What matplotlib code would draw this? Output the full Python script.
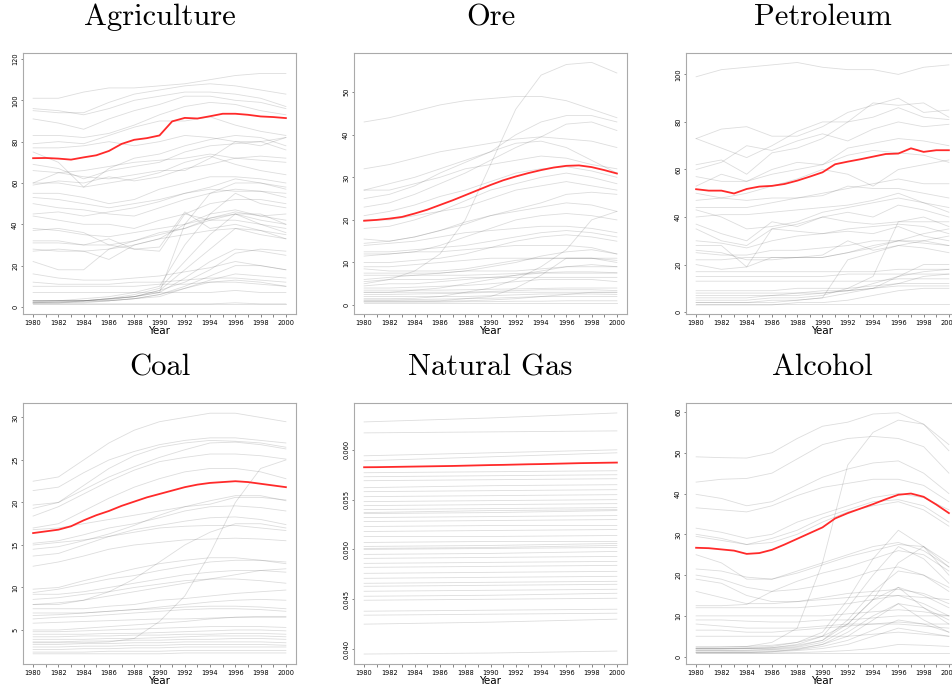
import numpy as np
import matplotlib
matplotlib.use("Agg")
import matplotlib.pyplot as plt
from matplotlib.ticker import MultipleLocator, FixedLocator

years = np.arange(1980, 2001)
years2 = years[::2]

# highlighted series (annual)
agri_red = [72.0, 72.1, 71.8, 71.3, 72.4, 73.4, 75.5, 78.9, 80.9, 81.7, 83.0,
            89.8, 91.5, 91.2, 92.3, 93.5, 93.5, 93.0, 92.2, 91.9, 91.4]
ore_red = [19.8, 20.0, 20.3, 20.7, 21.5, 22.4, 23.5, 24.6, 25.8, 27.0, 28.2,
           29.3, 30.2, 31.0, 31.7, 32.3, 32.7, 32.8, 32.4, 31.7, 30.9]
petro_red = [51.7, 51.1, 51.1, 49.9, 51.8, 52.8, 53.1, 53.9, 55.3, 57.0, 58.8,
             62.2, 63.3, 64.3, 65.4, 66.5, 66.7, 68.9, 67.4, 68.1, 68.1]
coal_red = [16.4, 16.6, 16.8, 17.2, 17.9, 18.5, 19.0, 19.6, 20.1, 20.6, 21.0,
            21.4, 21.8, 22.1, 22.3, 22.4, 22.5, 22.4, 22.2, 22.0, 21.8]
gas_red = [0.05825, 0.05826, 0.05828, 0.05830, 0.05832, 0.05834, 0.05836, 0.05838,
           0.05841, 0.05844, 0.05847, 0.05849, 0.05852, 0.05855, 0.05857, 0.05860,
           0.05863, 0.05866, 0.05868, 0.05870, 0.05872]
alco_red = [26.7, 26.6, 26.3, 26.0, 25.2, 25.4, 26.2, 27.5, 28.9, 30.3, 31.7,
            33.9, 35.2, 36.3, 37.4, 38.6, 39.7, 40.0, 39.2, 37.3, 35.2]

# background series, sampled every two years 1980..2000
agri_gray = [
    [101, 101, 104, 106, 106, 107, 108, 110, 112, 113, 113],
    [95, 94, 94, 99, 103, 105, 107, 108, 107, 105, 103],
    [96, 95, 93, 96, 100, 102, 104, 104, 103, 101, 97],
    [91, 89, 86, 91, 95, 98, 102, 102, 100, 99, 96],
    [83, 83, 82, 84, 88, 93, 97, 99, 98, 95, 93],
    [79, 80, 79, 83, 87, 90, 90, 92, 88, 85, 83],
    [77, 77, 78, 80, 78, 80, 83, 82, 80, 78, 82],
    [75, 70, 58, 67, 72, 74, 78, 81, 83, 82, 78],
    [69, 67, 62, 66, 68, 70, 75, 78, 79, 80, 76],
    [66, 65, 66, 68, 70, 71, 72, 74, 72, 73, 72],
    [60, 60, 58, 60, 62, 65, 70, 73, 69, 66, 64],
    [59, 61, 60, 63, 61, 63, 67, 69, 72, 71, 70],
    [55, 55, 53, 50, 52, 57, 60, 63, 63, 62, 60],
    [53, 52, 50, 48, 50, 52, 55, 57, 56, 56, 55],
    [50, 48, 47, 45, 44, 48, 52, 55, 57, 56, 53],
    [44, 42, 40, 40, 38, 42, 45, 50, 52, 52, 50],
    [38, 37, 35, 34, 36, 38, 40, 45, 47, 44, 42],
    [37, 38, 36, 30, 28, 27, 45, 42, 45, 40, 38],
    [32, 32, 30, 30, 32, 35, 38, 42, 42, 40, 36],
    [31, 31, 30, 33, 28, 29, 46, 38, 40, 37, 33],
    [28, 27, 27, 23, 30, 33, 35, 37, 38, 37, 35],
    [22, 18, 18, 28, 32, 36, 38, 43, 46, 44, 45],
    [16, 14, 13, 13, 14, 15, 17, 19, 22, 20, 18],
    [12, 11, 11, 11, 12, 12, 13, 14, 14, 13, 12],
    [10, 10, 10, 10, 10, 11, 11, 12, 12, 11, 10],
    [7, 7, 7, 7, 7, 7, 7, 7, 8, 7, 7],
    [3, 3, 4, 5, 7, 10, 30, 45, 55, 50, 48],
    [3, 3, 3, 4, 6, 9, 22, 35, 45, 45, 40],
    [2.5, 3, 3, 4, 5, 8, 18, 28, 38, 35, 33],
    [2, 2.5, 3, 3.5, 5, 7, 14, 22, 28, 27, 25],
    [3, 3, 3, 4, 5, 8, 12, 18, 26, 28, 27],
    [2, 2, 2.5, 3, 4, 6, 10, 15, 20, 20, 18],
    [2, 2, 3, 3, 4, 6, 9, 13, 16, 15, 14],
    [1.5, 1.5, 1.5, 1.5, 1.5, 1.5, 1.5, 1.5, 2, 1.5, 1.5],
    [1.2, 1.2, 1.2, 1.2, 1.2, 1.2, 1.2, 1.2, 1.2, 1.2, 1.2],
    [3, 3, 3, 4, 5, 7, 40, 43, 45, 42, 40],
    [2, 2, 2, 3, 4, 5, 9, 12, 13, 12, 10],
    [60, 65, 63, 62, 64, 66, 66, 72, 80, 80, 82],
    [27, 28, 27, 28, 30, 33, 40, 55, 60, 60, 58],
    [45, 46, 44, 46, 48, 51, 55, 58, 62, 60, 57],
]

ore_gray = [
    [43, 44, 45.5, 47, 48, 48.5, 49, 49, 48, 46, 44],
    [32, 33, 34.5, 36, 37, 38, 39, 39.5, 39, 38.5, 37],
    [27, 27, 28.5, 30, 32, 33, 34, 35, 34.5, 33, 32],
    [27, 28.5, 30, 32, 34, 36, 38, 38.5, 37, 34, 31],
    [25, 26, 28, 31, 33.5, 36, 40, 43, 44.5, 44.5, 43],
    [23, 24, 26, 28.5, 31, 34, 37, 39.5, 42.5, 43, 41],
    [21, 22, 23.5, 25.5, 27, 29, 31, 32, 32.5, 31.5, 30],
    [18, 18.5, 20, 22, 24.5, 27, 28.5, 30, 31, 30, 28.5],
    [15.5, 15, 16, 17.5, 19.5, 21, 22.5, 24, 26, 26.5, 26],
    [14.5, 15, 16, 17.5, 19, 21, 22, 23, 24, 23.5, 22],
    [14, 14.5, 15, 16, 17, 17.5, 18, 18.5, 18.5, 18, 17],
    [12.5, 12.5, 13, 13.5, 14, 15, 16, 17, 17.5, 17, 16],
    [11.5, 12, 12.5, 12.5, 13, 13.5, 14, 14, 14, 13.5, 12],
    [9, 9, 9.5, 10, 10.5, 11, 11, 11, 11, 11, 11],
    [8.5, 8, 8, 8, 8.5, 9.5, 10.5, 11, 11, 11, 10.5],
    [7.5, 7.5, 7.5, 7.5, 8, 8, 8, 8.5, 9, 9, 9],
    [7, 7, 7, 7, 7, 7.2, 7.4, 7.6, 7.8, 7.8, 7.6],
    [6, 6.5, 7, 7.5, 8, 9, 10, 11.5, 12.5, 13, 12],
    [5.5, 6, 6, 6, 6.5, 6.5, 6.5, 6.5, 6.5, 6.5, 6.5],
    [5, 6, 8, 12, 20, 33, 46, 54, 56.5, 57, 54.5],
    [4.5, 5, 5, 5.5, 6, 6.5, 7, 7.5, 7.5, 7.5, 7.5],
    [4, 4, 4.2, 4.4, 4.6, 5, 5.5, 6, 6, 6, 5.5],
    [3.5, 3.5, 3.5, 3.5, 3.6, 3.7, 3.8, 3.9, 4, 4, 4],
    [3, 3, 3, 3, 3, 3.2, 3.4, 3.6, 3.6, 3.6, 3.4],
    [2.5, 2.5, 2.6, 2.7, 2.8, 3, 3, 3, 3, 3, 3],
    [2, 2, 2, 2, 2, 2.2, 2.4, 2.6, 2.6, 2.6, 2.5],
    [1.5, 1.5, 1.6, 2, 3, 4, 6, 9, 13, 20, 22],
    [1, 1, 1, 1, 1.5, 2, 4, 7, 11, 11, 10],
    [0.8, 0.8, 0.8, 0.9, 1, 1.2, 1.5, 2, 2.5, 3, 3],
    [0.5, 0.5, 0.5, 0.5, 0.5, 0.5, 0.5, 0.5, 0.5, 0.5, 0.5],
    [0.7, 0.7, 0.7, 0.7, 0.8, 0.8, 0.9, 0.9, 1, 1, 1],
    [1.2, 1.2, 1.3, 1.4, 1.5, 1.6, 1.8, 2, 2, 2, 2],
    [3, 3, 3.5, 4, 5, 6, 7, 8, 9, 9.5, 9],
    [20, 20, 21, 22, 23, 25, 27, 28, 29, 28, 27],
    [10, 10, 10.5, 11, 12, 13.5, 15, 16, 16.5, 16, 15],
    [12, 12, 12.5, 14, 16, 18, 20, 21, 21.5, 21, 20],
]

petro_gray = [
    [99, 102, 103, 104, 105, 103, 102, 102, 100, 103, 104],
    [73, 77, 78, 74, 74, 78, 84, 87, 90, 84, 85],
    [73, 69, 65, 70, 76, 80, 80, 88, 87, 88, 82],
    [62, 64, 58, 67, 69, 73, 80, 82, 86, 82, 81],
    [60, 63, 70, 68, 72, 75, 72, 77, 80, 78, 79],
    [57, 55, 55, 60, 63, 62, 69, 71, 73, 72, 70],
    [53, 58, 55, 58, 60, 62, 66, 68, 67, 66, 63],
    [50, 48, 50, 53, 56, 60, 58, 53, 60, 62, 64],
    [47, 48, 47, 48, 48, 50, 52, 54, 56, 54, 54],
    [44, 44, 44, 46, 48, 49, 53, 52, 52, 50, 48],
    [43, 40, 35, 36, 38, 42, 44, 46, 48, 46, 44],
    [40, 41, 41, 42, 43, 44, 45, 47, 50, 46, 42],
    [37, 33, 30, 38, 36, 40, 38, 37, 38, 40, 36],
    [35, 30, 28, 35, 37, 40, 42, 40, 45, 43, 40],
    [30, 29, 27, 30, 32, 33, 34, 33, 36, 32, 30],
    [28, 28, 19, 35, 34, 33, 35, 36, 37, 36, 33],
    [25, 24, 24, 26, 26, 27, 28, 30, 30, 29, 28],
    [22, 22, 23, 23, 23, 23, 25, 27, 30, 30, 28],
    [20, 18, 19, 23, 23, 24, 30, 26, 28, 27, 25],
    [17, 17, 17, 17, 17, 17, 17, 17, 18, 18, 18],
    [15, 15, 15, 15, 15, 15, 16, 16, 16, 16, 16],
    [13, 13, 13, 13, 13, 13, 13, 13, 14, 14, 14],
    [9, 9, 9, 9, 10, 10, 10, 11, 12, 12, 12],
    [8, 8, 8, 8, 8, 9, 9, 10, 11, 11, 11],
    [6, 6, 6, 7, 7, 8, 9, 12, 15, 20, 20],
    [5, 5, 5, 6, 6, 7, 10, 15, 38, 38, 38],
    [4, 4, 4, 4, 5, 6, 8, 10, 15, 17, 18],
    [3.5, 3.5, 3.5, 3.5, 3.5, 3.5, 3.5, 3.5, 3.5, 3.5, 3.5],
    [4, 4, 4, 5, 5, 6, 22, 25, 28, 30, 32],
    [7, 7, 7, 7, 8, 8, 9, 10, 12, 15, 16],
    [3, 3, 3, 3, 4, 4, 5, 7, 9, 10, 10],
    [26, 25, 22, 22, 23, 23, 25, 28, 30, 33, 35],
]

coal_gray = [
    [22.5, 23, 25, 27, 28.5, 29.5, 30, 30.5, 30.5, 30, 29.5],
    [21.4, 21.8, 23.5, 25, 26, 26.8, 27.3, 27.6, 27.6, 27.3, 27],
    [19.7, 20, 22, 24, 25.5, 26.5, 27, 27.3, 27.2, 27, 26.5],
    [19.3, 20, 21.5, 23, 24.2, 25.3, 26.2, 27, 27.1, 26.8, 26.3],
    [18.4, 19.5, 21, 22.5, 23.8, 24.8, 25.3, 25.7, 25.7, 25.5, 25.1],
    [17, 17.5, 19, 20.5, 21.8, 22.8, 23.6, 24, 24, 23.6, 22.8],
    [16.8, 17, 17.5, 18, 18.5, 19, 19.5, 19.8, 20.6, 20.6, 20.3],
    [15.2, 15.5, 16.2, 17, 17.5, 18.2, 19, 19.5, 19.6, 19.4, 19],
    [15, 15.3, 15.6, 16, 16.5, 17, 17.2, 17.3, 17.3, 17, 16.7],
    [14.5, 14.8, 15.5, 16.3, 17.3, 18.5, 19.5, 20.2, 20.8, 20.8, 20.2],
    [13.7, 14, 15, 16, 16.8, 17.3, 17.8, 18.2, 18.3, 18, 17.4],
    [12.5, 13, 13.7, 14.5, 15, 15.3, 15.6, 15.7, 15.8, 15.7, 15.5],
    [9.8, 10, 10.8, 11.5, 12.2, 12.8, 13.2, 13.5, 13.5, 13.2, 12.8],
    [9.4, 9.8, 10.4, 11, 11.4, 12, 12.5, 13, 13.2, 13.2, 13],
    [9.2, 9.2, 9.5, 10, 10.5, 11, 11.5, 11.8, 12, 12, 11.8],
    [8.6, 8.8, 9.2, 9.5, 10, 10.4, 10.8, 11, 11, 10.8, 10.5],
    [8, 8.2, 8.5, 9, 9.5, 10, 10.5, 11, 11.5, 12, 12.2],
    [7.5, 7.5, 7.5, 7.8, 8, 8.5, 8.7, 9, 9.3, 9.5, 9.7],
    [7, 7, 7, 7.2, 7.4, 7.7, 8, 8.3, 8.5, 8.6, 8.5],
    [6.7, 6.8, 7, 7.2, 7.4, 7.5, 7.7, 7.8, 7.8, 7.7, 7.5],
    [6.3, 6.5, 6.6, 6.8, 7, 7.2, 7.4, 7.5, 7.5, 7.4, 7.2],
    [5.8, 5.9, 6, 6.1, 6.2, 6.3, 6.3, 6.4, 6.5, 6.5, 6.5],
    [5, 5, 5.2, 5.4, 5.6, 5.8, 6, 6.3, 6.5, 6.6, 6.6],
    [4.8, 4.8, 4.9, 5, 5.1, 5.2, 5.3, 5.4, 5.4, 5.4, 5.3],
    [4.5, 4.5, 4.5, 4.6, 4.6, 4.7, 4.8, 4.9, 5, 5, 4.9],
    [4.2, 4.2, 4.3, 4.3, 4.4, 4.4, 4.5, 4.5, 4.6, 4.6, 4.5],
    [3.9, 3.9, 3.9, 4, 4, 4.1, 4.2, 4.3, 4.3, 4.3, 4.2],
    [3.6, 3.6, 3.7, 3.7, 3.8, 3.8, 3.9, 3.9, 4, 4, 3.9],
    [3.3, 3.3, 3.4, 3.4, 3.5, 3.5, 3.6, 3.6, 3.6, 3.6, 3.5],
    [3, 3, 3.1, 3.1, 3.2, 3.2, 3.3, 3.3, 3.3, 3.3, 3.2],
    [2.7, 2.7, 2.8, 2.8, 2.9, 2.9, 3, 3, 3, 3, 3],
    [2.4, 2.4, 2.4, 2.5, 2.5, 2.5, 2.6, 2.6, 2.6, 2.6, 2.6],
    [2.2, 2.2, 2.2, 2.2, 2.2, 2.2, 2.3, 2.3, 2.3, 2.3, 2.3],
    [3.5, 3.5, 3.5, 3.6, 4, 6, 9, 14, 20, 24, 25],
    [8, 8, 8.5, 9.5, 11, 13, 15, 16.5, 17.5, 17.5, 17],
]

# natural gas lines: values at 1980, 1990, 2000
gas_years = [1980, 1990, 2000]
gas_gray = [
    [0.0628, 0.0632, 0.0637], [0.0617, 0.0618, 0.0619], [0.0594, 0.0597, 0.0600],
    [0.0589, 0.0593, 0.0597], [0.0577, 0.0578, 0.0579], [0.0573, 0.0574, 0.0575],
    [0.0569, 0.0570, 0.0571], [0.0562, 0.0564, 0.0565], [0.0558, 0.0559, 0.0560],
    [0.0553, 0.0554, 0.0555], [0.0548, 0.0549, 0.0550], [0.0544, 0.0545, 0.0546],
    [0.0540, 0.0541, 0.0542], [0.0537, 0.0539, 0.0540], [0.0532, 0.0533, 0.0534],
    [0.0528, 0.0529, 0.0530], [0.0523, 0.0524, 0.0524], [0.0518, 0.0519, 0.0520],
    [0.0513, 0.0513, 0.0514], [0.0507, 0.0508, 0.0508], [0.0503, 0.0504, 0.0506],
    [0.0500, 0.0501, 0.0502], [0.0495, 0.0496, 0.0498], [0.0491, 0.0492, 0.0493],
    [0.0486, 0.0487, 0.0488], [0.0482, 0.0483, 0.0484], [0.0476, 0.0477, 0.0478],
    [0.0471, 0.0472, 0.0473], [0.0466, 0.0467, 0.0468], [0.0463, 0.0464, 0.0465],
    [0.0458, 0.0459, 0.0460], [0.0453, 0.0454, 0.0456], [0.0449, 0.0450, 0.0451],
    [0.0438, 0.0439, 0.0440], [0.0434, 0.0435, 0.0436], [0.0425, 0.0427, 0.0430],
    [0.0395, 0.0396, 0.0398], [0.0501, 0.0502, 0.0504], [0.0536, 0.0537, 0.0539],
]

alco_gray = [
    [49, 48.8, 48.7, 50, 53.5, 56.5, 57.5, 59.5, 59.8, 57, 50.5],
    [42.8, 43.5, 43.7, 45, 48.5, 52, 53.5, 54, 53.5, 51.5, 45],
    [39.8, 38.8, 37, 38, 41, 44, 46, 47.5, 48, 45, 40],
    [36.5, 36, 35.5, 37, 39.5, 41.5, 42.5, 43.5, 43.5, 42, 38],
    [31.5, 30.5, 29, 30, 33, 35, 37, 39, 40, 39, 36],
    [30, 29, 27.5, 29, 31, 34, 36, 38, 38.5, 37, 33],
    [29.5, 28.5, 27.5, 28, 30, 33, 35.5, 37, 38, 36, 32],
    [25, 23, 19, 19, 21, 23, 25, 27, 28, 26, 22],
    [21.5, 21, 19.5, 19, 20.5, 22.5, 24.5, 26, 27.5, 27, 23],
    [20, 19, 17, 16, 16.5, 17.5, 19, 21, 22, 20, 17],
    [19, 18, 15, 13.5, 13.5, 14.5, 15.5, 16, 16.5, 15.5, 13],
    [16, 14.5, 13, 13, 13.5, 14, 14.5, 15, 15, 14.5, 14],
    [12.5, 12.5, 12.8, 16, 18.5, 20.5, 22, 24, 26, 25, 21],
    [12, 12, 12, 12, 12, 12.5, 13, 14, 15, 13, 10],
    [10, 10, 10, 10, 10, 10, 10.5, 11, 11.5, 11, 10],
    [9, 9, 8.7, 8.5, 8.5, 9, 9, 9.5, 10, 10, 10],
    [8, 7.5, 7, 7, 7, 7.5, 8, 8, 8.5, 8, 8],
    [6.5, 6.5, 6, 6, 6.5, 7, 7.5, 8, 8, 7.5, 7],
    [5, 5, 5, 5, 5, 5, 5, 5.5, 6, 5.5, 5],
    [2.2, 2.3, 2.5, 3.5, 7, 23, 47, 55, 58, 57, 52],
    [2, 2, 2.2, 2.5, 3.5, 6, 14, 24, 31, 27, 22],
    [2, 2, 2, 2.2, 3, 5, 12, 20, 27, 24, 18],
    [1.8, 1.8, 2, 2.2, 2.8, 4, 9, 16, 21, 20, 16],
    [1.5, 1.5, 1.6, 1.8, 2.3, 3.5, 7, 12, 17, 15, 12],
    [1.5, 1.5, 1.5, 1.7, 2, 3, 5, 9, 13, 12, 9],
    [1.2, 1.2, 1.3, 1.4, 1.7, 2.5, 4, 6.5, 9, 8, 6],
    [1, 1, 1, 1.2, 1.5, 2, 3, 5, 7, 6, 5],
    [0.9, 0.9, 0.9, 0.9, 1, 1.2, 1.5, 2, 3, 2.8, 2.5],
    [0.8, 0.8, 0.8, 0.8, 0.8, 0.8, 0.8, 0.8, 0.8, 0.8, 0.8],
    [2.5, 2.5, 2.5, 2.8, 3.5, 5, 8, 14, 23, 27, 20],
    [2, 2, 2, 2, 2.5, 4, 8, 14, 17, 12, 8],
    [1, 1, 1, 1.2, 1.8, 3, 6, 10, 13, 9, 6],
]

titles = ["Agriculture", "Ore", "Petroleum", "Coal", "Natural Gas", "Alcohol"]
ylims = [(-3.4, 122.9), (-2.1, 59.2), (-0.8, 109.0),
         (1.0, 31.7), (0.0385, 0.0647), (-1.8, 62.2)]
ystep = [20, 10, 20, 5, 0.005, 10]

panels = [
    (years2, agri_gray, agri_red),
    (years2, ore_gray, ore_red),
    (years2, petro_gray, petro_red),
    (years2, coal_gray, coal_red),
    (gas_years, gas_gray, gas_red),
    (years2, alco_gray, alco_red),
]

fig = plt.figure(figsize=(9.53, 6.84), dpi=100)
W, H = 953.0, 684.0
lefts = [23, 354, 686]
tops = [53, 403]
aw, ah = 273, 261

for i, (gx, gray, red) in enumerate(panels):
    r, c = divmod(i, 3)
    ax = fig.add_axes([lefts[c] / W, 1 - (tops[r] + ah) / H, aw / W, ah / H])
    for line in gray:
        ax.plot(gx, line, color="#555555", alpha=0.2, lw=0.6)
    red_x = years if len(red) == 21 else years2
    ax.plot(red_x, red, color="#ff2a2a", lw=1.3)

    ax.set_xlim(1979.2, 2000.8)
    ax.set_ylim(*ylims[i])
    ax.xaxis.set_major_locator(FixedLocator(years2))
    ax.xaxis.set_minor_locator(MultipleLocator(1))
    ax.yaxis.set_major_locator(MultipleLocator(ystep[i]))
    if i == 4:
        ax.yaxis.set_major_formatter(plt.FormatStrFormatter("%.3f"))
    ax.tick_params(axis="x", which="both", length=2.5, width=0.5, color="#555555",
                   labelsize=4.8, pad=1.5)
    ax.tick_params(axis="y", length=1.5, width=0.5, color="#555555",
                   labelsize=4.8, pad=2)
    for lab in ax.get_yticklabels():
        lab.set_rotation(90)
        lab.set_va("center")
    for s in ax.spines.values():
        s.set_color("#aaaaaa")
        s.set_linewidth(0.8)
    ax.set_xlabel("Year", fontsize=7.5, labelpad=0)
    ax.set_title(titles[i], family="cmr10", fontsize=22, pad=20)

fig.savefig("out.png", dpi=100)
